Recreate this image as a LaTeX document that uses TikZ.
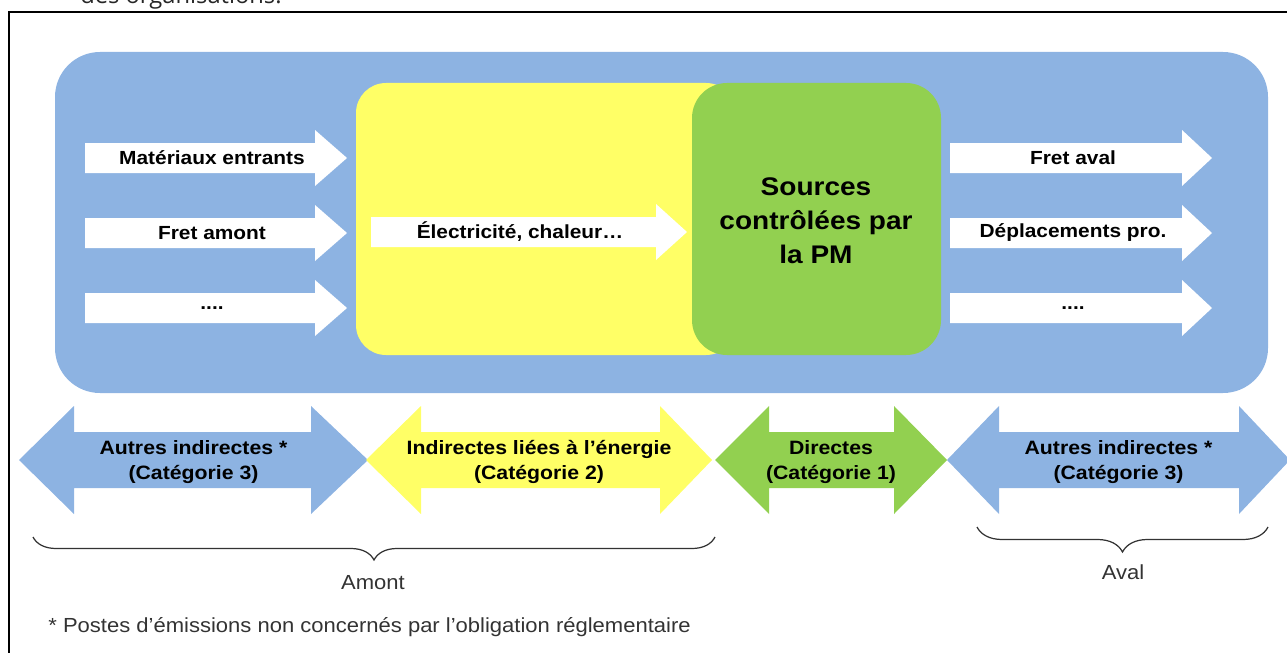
\documentclass[tikz,border=0pt]{standalone}
\usepackage{fontspec}
\setmainfont{Liberation Sans}
\newfontfamily\topfont{Open Sans}
\usetikzlibrary{decorations.pathreplacing}
\definecolor{scopeblue}{HTML}{8DB3E2}
\definecolor{energyyellow}{HTML}{FFFF66}
\definecolor{directgreen}{HTML}{92D050}
\newcommand{\fourdots}{....}
\tikzset{
  flowlabel/.style={font=\fontsize{10.8}{13}\selectfont\bfseries, xscale=1.1, inner sep=0pt},
  catlabel/.style={font=\fontsize{11}{14.2}\selectfont\bfseries, align=center, xscale=1.1, inner sep=0pt},
  curlybrace/.style={decorate, decoration={brace, mirror, amplitude=#1}, draw=black!80, line width=0.7pt},
  notelabel/.style={font=\fontsize{11.6}{13}\selectfont, text=black!80, xscale=1.08, inner sep=0pt},
}

\begin{document}
\begin{tikzpicture}[x=0.02cm, y=-0.02cm]
    \useasboundingbox (0,0) rectangle (1287,652);
    \node[font=\topfont\fontsize{13.5}{15}\selectfont, anchor=base west, text=black!85, inner sep=0pt] (toptext) at (80,4) {des organisations.};
    \draw[line width=0.7pt] (9,670) -- (9,12) -- (1300,12);
    % scopes
    \fill[scopeblue, rounded corners=0.9cm] (55,52) rectangle (1268,393);
    \fill[energyyellow, rounded corners=0.6cm] (356,83) rectangle (736,355);
    \fill[directgreen, rounded corners=0.7cm] (692,83) rectangle (941,355);
    \node[font=\fontsize{14.5}{19.3}\selectfont\bfseries, align=center, xscale=1.1] (pm) at (816,221) {Sources\\contrôlées par\\la PM};
    % flows
    \foreach \y/\txt/\nm in {158/Matériaux entrants/mat, 233/Fret amont/fram, 308/\fourdots/upmore}{
        \fill[white] (85,\y-15) -- (315,\y-15) -- (315,\y-28) -- (347,\y) -- (315,\y+28) -- (315,\y+15) -- (85,\y+15) -- cycle;
        \node[flowlabel] (\nm) at (212,\y) {\txt};
    }
    \fill[white] (371,217) -- (656,217) -- (656,204) -- (687,232) -- (656,260) -- (656,247) -- (371,247) -- cycle;
    \node[flowlabel] (elec) at (520,232) {Électricité, chaleur…};
    \foreach \y/\txt/\nm in {158/Fret aval/frav, 233/Déplacements pro./depl, 308/\fourdots/downmore}{
        \fill[white] (950,\y-15) -- (1182,\y-15) -- (1182,\y-28) -- (1212,\y) -- (1182,\y+28) -- (1182,\y+15) -- (950,\y+15) -- cycle;
        \node[flowlabel] (\nm) at (1073,\y) {\txt};
    }
    % categories
    \foreach \a/\b/\c/\d/\col/\nm/\txt in {
        19/74/311/368/scopeblue/catup/{Autres indirectes *\\(Catégorie 3)},
        366/421/660/712/energyyellow/cattwo/{Indirectes liées à l’énergie\\(Catégorie 2)},
        715/769/894/947/directgreen/catone/{Directes\\(Catégorie 1)},
        947/999/1239/1290/scopeblue/catdown/{Autres indirectes *\\(Catégorie 3)}}{
        \fill[\col] (\a,460) -- (\b,406) -- (\b,432) -- (\c,432) -- (\c,406) -- (\d,460) -- (\c,514) -- (\c,488) -- (\b,488) -- (\b,514) -- cycle;
        \node[catlabel] (\nm) at ({(\a+\d)/2},462) {\txt};
    }
    % braces
    \draw[curlybrace=0.46cm] (33,537) -- (715,537);
    \draw[curlybrace=0.5cm] (977,527) -- (1268,527);
    \node[notelabel] (amont) at (373,583) {Amont};
    \node[notelabel] (aval) at (1123,572) {Aval};
    \node[notelabel, anchor=west] (note) at (48,627) {* Postes d’émissions non concernés par l’obligation réglementaire};
\end{tikzpicture}
\end{document}
